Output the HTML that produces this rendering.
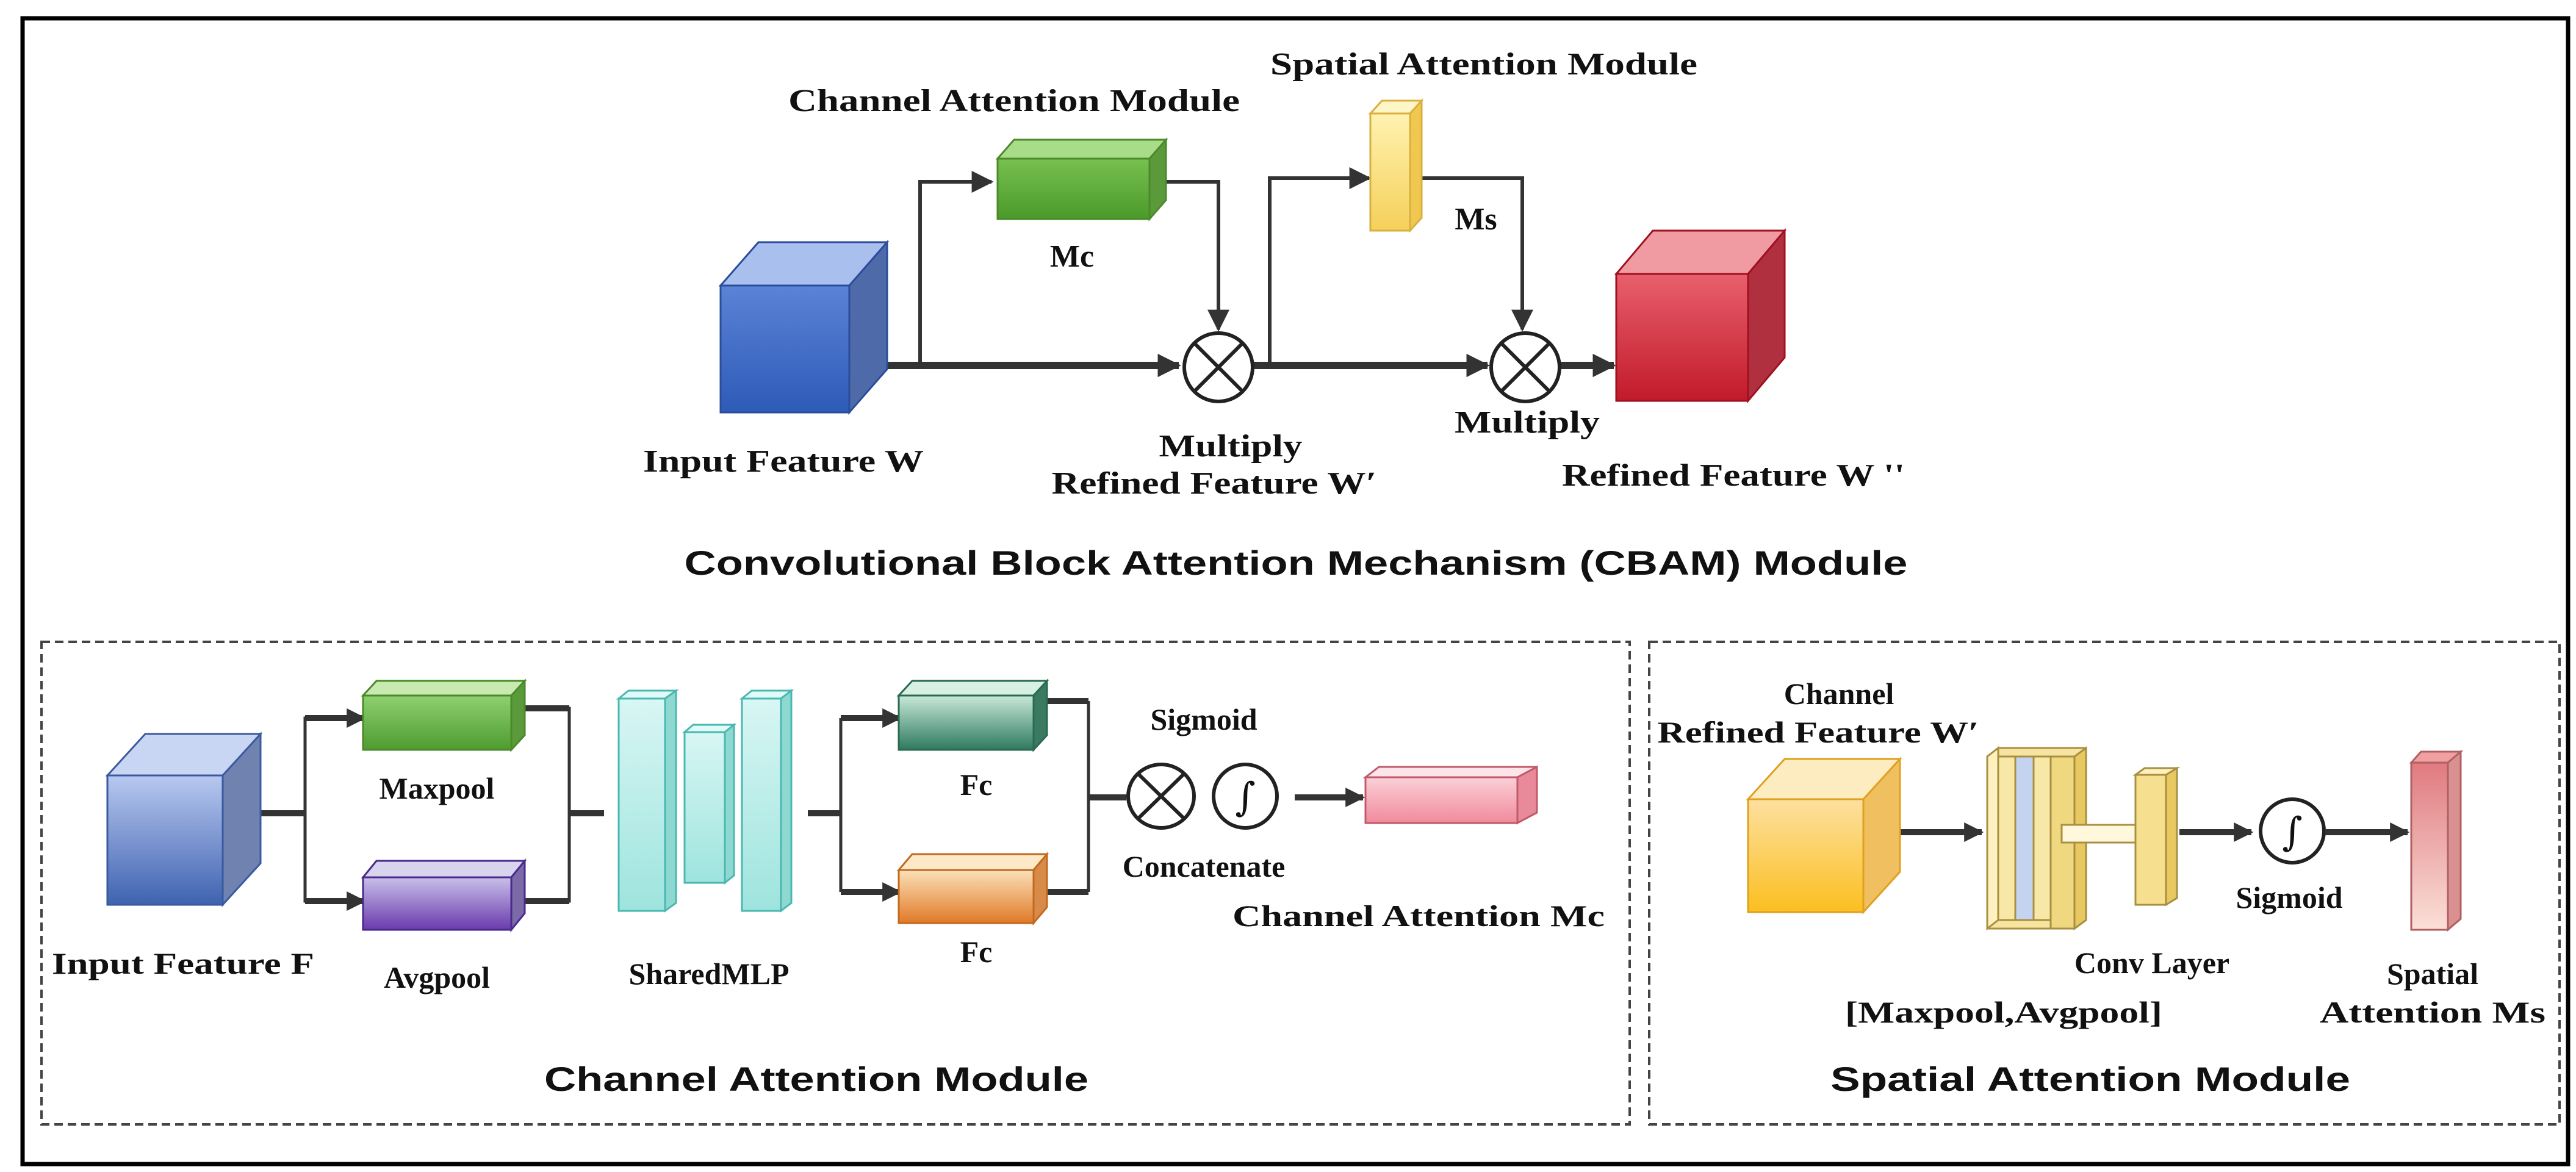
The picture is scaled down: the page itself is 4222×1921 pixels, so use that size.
<!DOCTYPE html>
<html><head><meta charset="utf-8"><style>
html,body{margin:0;padding:0;background:#fff}
svg{display:block}
.s{font-family:"Liberation Serif",serif;font-weight:bold;fill:#111}
.t{font-family:"Liberation Sans",sans-serif;font-weight:bold;fill:#111}
</style></head><body>
<svg width="4222" height="1921" viewBox="0 0 4222 1921" xmlns="http://www.w3.org/2000/svg">
<defs>
<marker id="a" viewBox="0 0 10 10" refX="9" refY="5" markerWidth="3.2" markerHeight="3.2" orient="auto" markerUnits="strokeWidth"><path d="M0,0 L10,5 L0,10 z" fill="#333"/></marker>
<marker id="b" viewBox="0 0 10 10" refX="9" refY="5" markerWidth="6" markerHeight="6" orient="auto" markerUnits="strokeWidth"><path d="M0,0 L10,5 L0,10 z" fill="#333"/></marker>
<linearGradient id="gBlue" x1="0" y1="0" x2="0" y2="1"><stop offset="0" stop-color="#5b83d6"/><stop offset="1" stop-color="#2e5bb8"/></linearGradient>
<linearGradient id="gRed" x1="0" y1="0" x2="0" y2="1"><stop offset="0" stop-color="#e8606c"/><stop offset="1" stop-color="#c21a2a"/></linearGradient>
<linearGradient id="gGreen" x1="0" y1="0" x2="0" y2="1"><stop offset="0" stop-color="#78c050"/><stop offset="1" stop-color="#4a9a2a"/></linearGradient>
<linearGradient id="gYel" x1="0" y1="0" x2="0" y2="1"><stop offset="0" stop-color="#fff2b0"/><stop offset="1" stop-color="#f5d05a"/></linearGradient>
<linearGradient id="gLB" x1="0" y1="0" x2="0" y2="1"><stop offset="0" stop-color="#b8c8f0"/><stop offset="1" stop-color="#3f63b0"/></linearGradient>
<linearGradient id="gMax" x1="0" y1="0" x2="0" y2="1"><stop offset="0" stop-color="#8fd070"/><stop offset="1" stop-color="#4e9c30"/></linearGradient>
<linearGradient id="gAvg" x1="0" y1="0" x2="0" y2="1"><stop offset="0" stop-color="#c8c0e8"/><stop offset="1" stop-color="#6a3aae"/></linearGradient>
<linearGradient id="gFc1" x1="0" y1="0" x2="0" y2="1"><stop offset="0" stop-color="#c8e8d8"/><stop offset="1" stop-color="#2e7a60"/></linearGradient>
<linearGradient id="gFc2" x1="0" y1="0" x2="0" y2="1"><stop offset="0" stop-color="#fbe0b8"/><stop offset="1" stop-color="#e07a28"/></linearGradient>
<linearGradient id="gPink" x1="0" y1="0" x2="0" y2="1"><stop offset="0" stop-color="#fbd0d8"/><stop offset="1" stop-color="#f08a9c"/></linearGradient>
<linearGradient id="gOr" x1="0" y1="0" x2="0" y2="1"><stop offset="0" stop-color="#fde0a0"/><stop offset="1" stop-color="#fbbf20"/></linearGradient>
<linearGradient id="gCy" x1="0" y1="0" x2="0" y2="1"><stop offset="0" stop-color="#d8f6f4"/><stop offset="1" stop-color="#9ee4de"/></linearGradient>
<linearGradient id="gPk2" x1="0" y1="0" x2="0" y2="1"><stop offset="0" stop-color="#e07a80"/><stop offset="1" stop-color="#fbe0d8"/></linearGradient>
</defs>

<!-- outer border -->
<rect x="37" y="30" width="4172" height="1878" fill="none" stroke="#000" stroke-width="7"/>

<!-- ===== TOP CBAM ===== -->
<text class="s" x="1662" y="182" font-size="52" text-anchor="middle" textLength="740" lengthAdjust="spacingAndGlyphs">Channel Attention Module</text>
<text class="s" x="2432" y="122" font-size="52" text-anchor="middle" textLength="700" lengthAdjust="spacingAndGlyphs">Spatial Attention Module</text>

<!-- lines -->
<g stroke="#333" fill="none">
<line x1="1454" y1="599" x2="1932" y2="599" stroke-width="12" marker-end="url(#a)"/>
<polyline points="1508,599 1508,298 1625,298" stroke-width="6" marker-end="url(#b)"/>
<polyline points="1884,298 1997,298 1997,540" stroke-width="6" marker-end="url(#b)"/>
<line x1="2054" y1="599" x2="2438" y2="599" stroke-width="12" marker-end="url(#a)"/>
<polyline points="2081,599 2081,292 2244,292" stroke-width="6" marker-end="url(#b)"/>
<polyline points="2311,292 2495,292 2495,540" stroke-width="6" marker-end="url(#b)"/>
<line x1="2557" y1="599" x2="2645" y2="599" stroke-width="12" marker-end="url(#a)"/>
</g>
<!-- blue cube -->
<rect x="1181" y="468" width="211" height="208" fill="url(#gBlue)" stroke="#2a4c9a" stroke-width="3"/>
<polygon points="1181,468 1243,397 1454,397 1392,468" fill="#a9bfee" stroke="#2a4c9a" stroke-width="3"/>
<polygon points="1392,468 1454,397 1454,605 1392,676" fill="#4e6aa8" stroke="#2a4c9a" stroke-width="3"/>
<!-- green Mc -->
<rect x="1635" y="260" width="249" height="99" fill="url(#gGreen)" stroke="#4a8a2a" stroke-width="3"/>
<polygon points="1635,260 1662,229 1911,229 1884,260" fill="#a8dc88" stroke="#4a8a2a" stroke-width="3"/>
<polygon points="1884,260 1911,229 1911,328 1884,359" fill="#5a9a3a" stroke="#4a8a2a" stroke-width="3"/>
<!-- yellow Ms -->
<rect x="2246" y="186" width="65" height="192" fill="url(#gYel)" stroke="#d8b040" stroke-width="3"/>
<polygon points="2246,186 2265,165 2330,165 2311,186" fill="#fff6c8" stroke="#d8b040" stroke-width="3"/>
<polygon points="2311,186 2330,165 2330,357 2311,378" fill="#f0c850" stroke="#d8b040" stroke-width="3"/>
<!-- red cube -->
<rect x="2649" y="449" width="216" height="208" fill="url(#gRed)" stroke="#a01020" stroke-width="3"/>
<polygon points="2649,449 2709,378 2925,378 2865,449" fill="#f09aa2" stroke="#a01020" stroke-width="3"/>
<polygon points="2865,449 2925,378 2925,586 2865,657" fill="#b03040" stroke="#a01020" stroke-width="3"/>
<!-- multiply circles -->
<g stroke="#222" stroke-width="6" fill="#fff">
<circle cx="1997" cy="602" r="56"/>
<line x1="1957" y1="562" x2="2037" y2="642"/><line x1="2037" y1="562" x2="1957" y2="642"/>
<circle cx="2500" cy="602" r="56"/>
<line x1="2460" y1="562" x2="2540" y2="642"/><line x1="2540" y1="562" x2="2460" y2="642"/>
</g>
<text class="s" x="1757" y="437" font-size="52" text-anchor="middle">Mc</text>
<text class="s" x="2419" y="376" font-size="52" text-anchor="middle">Ms</text>
<text class="s" x="1284" y="773" font-size="52" text-anchor="middle" textLength="460" lengthAdjust="spacingAndGlyphs">Input Feature W</text>
<text class="s" x="2017" y="748" font-size="52" text-anchor="middle" textLength="235" lengthAdjust="spacingAndGlyphs">Multiply</text>
<text class="s" x="1990" y="809" font-size="52" text-anchor="middle" textLength="533" lengthAdjust="spacingAndGlyphs">Refined Feature W′</text>
<text class="s" x="2503" y="709" font-size="52" text-anchor="middle" textLength="238" lengthAdjust="spacingAndGlyphs">Multiply</text>
<text class="s" x="2841" y="796" font-size="52" text-anchor="middle" textLength="562" lengthAdjust="spacingAndGlyphs">Refined Feature W ''</text>
<text class="t" x="2124" y="942" font-size="56" text-anchor="middle" textLength="2005" lengthAdjust="spacingAndGlyphs">Convolutional Block Attention Mechanism (CBAM) Module</text>

<!-- ===== BOTTOM dashed boxes ===== -->
<g fill="none" stroke="#444" stroke-width="4" stroke-dasharray="14,8">
<rect x="68" y="1052" width="2603" height="791"/>
<rect x="2703" y="1052" width="1492" height="791"/>
</g>

<!-- channel attention lines -->
<g stroke="#333" fill="none">
<line x1="427" y1="1333" x2="500" y2="1333" stroke-width="10"/>
<polyline points="595,1177 500,1177 500,1477 595,1477" stroke-width="5"/>
<line x1="500" y1="1177" x2="597" y2="1177" stroke-width="10" marker-end="url(#a)"/>
<line x1="500" y1="1477" x2="597" y2="1477" stroke-width="10" marker-end="url(#a)"/>
<polyline points="860,1161 933,1161 933,1477 860,1477" stroke-width="5"/>
<line x1="860" y1="1161" x2="933" y2="1161" stroke-width="10"/>
<line x1="860" y1="1477" x2="933" y2="1477" stroke-width="10"/>
<line x1="933" y1="1333" x2="990" y2="1333" stroke-width="10"/>
<line x1="1324" y1="1333" x2="1378" y2="1333" stroke-width="10"/>
<polyline points="1378,1177 1378,1462" stroke-width="5"/>
<line x1="1378" y1="1177" x2="1475" y2="1177" stroke-width="10" marker-end="url(#a)"/>
<line x1="1378" y1="1462" x2="1475" y2="1462" stroke-width="10" marker-end="url(#a)"/>
<polyline points="1784,1149 1784,1462" stroke-width="5"/>
<line x1="1716" y1="1149" x2="1784" y2="1149" stroke-width="10"/>
<line x1="1716" y1="1462" x2="1784" y2="1462" stroke-width="10"/>
<line x1="1784" y1="1307" x2="1846" y2="1307" stroke-width="10"/>
<line x1="2122" y1="1307" x2="2234" y2="1307" stroke-width="10" marker-end="url(#a)"/>
</g>
<!-- input F cube -->
<rect x="176" y="1271" width="189" height="212" fill="url(#gLB)" stroke="#3a5aa0" stroke-width="3"/>
<polygon points="176,1271 238,1203 427,1203 365,1271" fill="#c8d6f4" stroke="#3a5aa0" stroke-width="3"/>
<polygon points="365,1271 427,1203 427,1415 365,1483" fill="#6f82b0" stroke="#3a5aa0" stroke-width="3"/>
<!-- maxpool -->
<rect x="595" y="1140" width="243" height="89" fill="url(#gMax)" stroke="#4a8a2a" stroke-width="3"/>
<polygon points="595,1140 617,1116 860,1116 838,1140" fill="#c8eab0" stroke="#4a8a2a" stroke-width="3"/>
<polygon points="838,1140 860,1116 860,1205 838,1229" fill="#5a9a3a" stroke="#4a8a2a" stroke-width="3"/>
<!-- avgpool -->
<rect x="595" y="1438" width="243" height="86" fill="url(#gAvg)" stroke="#4a2a8a" stroke-width="3"/>
<polygon points="595,1438 617,1411 860,1411 838,1438" fill="#d8d4ee" stroke="#4a2a8a" stroke-width="3"/>
<polygon points="838,1438 860,1411 860,1497 838,1524" fill="#7a6aa8" stroke="#4a2a8a" stroke-width="3"/>
<!-- shared MLP bars -->
<g stroke="#4ab8b0" stroke-width="3">
<rect x="1014" y="1145" width="76" height="348" fill="url(#gCy)"/>
<polygon points="1014,1145 1030,1132 1108,1132 1090,1145" fill="#e0faf8"/>
<polygon points="1090,1145 1108,1132 1108,1480 1090,1493" fill="#8ed8d2"/>
<rect x="1122" y="1200" width="66" height="247" fill="url(#gCy)"/>
<polygon points="1122,1200 1136,1188 1203,1188 1188,1200" fill="#e0faf8"/>
<polygon points="1188,1200 1203,1188 1203,1435 1188,1447" fill="#8ed8d2"/>
<rect x="1216" y="1145" width="64" height="348" fill="url(#gCy)"/>
<polygon points="1216,1145 1232,1132 1297,1132 1280,1145" fill="#e0faf8"/>
<polygon points="1280,1145 1297,1132 1297,1480 1280,1493" fill="#8ed8d2"/>
</g>
<!-- Fc1 -->
<rect x="1473" y="1140" width="221" height="89" fill="url(#gFc1)" stroke="#2a6a50" stroke-width="3"/>
<polygon points="1473,1140 1495,1116 1716,1116 1694,1140" fill="#d8f0e4" stroke="#2a6a50" stroke-width="3"/>
<polygon points="1694,1140 1716,1116 1716,1205 1694,1229" fill="#3a7a62" stroke="#2a6a50" stroke-width="3"/>
<!-- Fc2 -->
<rect x="1473" y="1426" width="221" height="87" fill="url(#gFc2)" stroke="#c06a20" stroke-width="3"/>
<polygon points="1473,1426 1495,1400 1716,1400 1694,1426" fill="#fde8c8" stroke="#c06a20" stroke-width="3"/>
<polygon points="1694,1426 1716,1400 1716,1487 1694,1513" fill="#d88a48" stroke="#c06a20" stroke-width="3"/>
<!-- circles -->
<g stroke="#222" stroke-width="6" fill="#fff">
<ellipse cx="1903" cy="1305" rx="54" ry="52"/>
<line x1="1865" y1="1268" x2="1941" y2="1342"/><line x1="1941" y1="1268" x2="1865" y2="1342"/>
<ellipse cx="2041" cy="1305" rx="52" ry="52"/>
<ellipse cx="3757" cy="1362" rx="52" ry="52"/>
</g>
<text x="2041" y="1328" font-family="DejaVu Serif,serif" font-size="64" font-style="italic" text-anchor="middle" fill="#111">∫</text>
<text x="3757" y="1385" font-family="DejaVu Serif,serif" font-size="64" font-style="italic" text-anchor="middle" fill="#111">∫</text>
<!-- pink Mc -->
<rect x="2238" y="1274" width="249" height="75" fill="url(#gPink)" stroke="#c05a6a" stroke-width="3"/>
<polygon points="2238,1274 2260,1257 2519,1257 2487,1274" fill="#fde4e8" stroke="#c05a6a" stroke-width="3"/>
<polygon points="2487,1274 2519,1257 2519,1332 2487,1349" fill="#e88a9a" stroke="#c05a6a" stroke-width="3"/>

<text class="s" x="716" y="1309" font-size="50" text-anchor="middle">Maxpool</text>
<text class="s" x="716" y="1619" font-size="50" text-anchor="middle">Avgpool</text>
<text class="s" x="300" y="1596" font-size="50" text-anchor="middle" textLength="430" lengthAdjust="spacingAndGlyphs">Input Feature F</text>
<text class="s" x="1162" y="1613" font-size="50" text-anchor="middle">SharedMLP</text>
<text class="s" x="1600" y="1303" font-size="50" text-anchor="middle">Fc</text>
<text class="s" x="1600" y="1577" font-size="50" text-anchor="middle">Fc</text>
<text class="s" x="1973" y="1196" font-size="50" text-anchor="middle">Sigmoid</text>
<text class="s" x="1973" y="1437" font-size="50" text-anchor="middle">Concatenate</text>
<text class="s" x="2325" y="1518" font-size="50" text-anchor="middle" textLength="610" lengthAdjust="spacingAndGlyphs">Channel Attention Mc</text>
<text class="t" x="1338" y="1788" font-size="56" text-anchor="middle" textLength="892" lengthAdjust="spacingAndGlyphs">Channel Attention Module</text>

<!-- spatial attention -->
<g stroke="#333" fill="none">
<line x1="3114" y1="1364" x2="3248" y2="1364" stroke-width="10" marker-end="url(#a)"/>
<line x1="3572" y1="1364" x2="3690" y2="1364" stroke-width="10" marker-end="url(#a)"/>
<line x1="3811" y1="1364" x2="3946" y2="1364" stroke-width="10" marker-end="url(#a)"/>
</g>
<!-- orange cube -->
<rect x="2865" y="1310" width="189" height="185" fill="url(#gOr)" stroke="#e0a020" stroke-width="3"/>
<polygon points="2865,1310 2925,1244 3114,1244 3054,1310" fill="#fdecc0" stroke="#e0a020" stroke-width="3"/>
<polygon points="3054,1310 3114,1244 3114,1429 3054,1495" fill="#f0c060" stroke="#e0a020" stroke-width="3"/>
<!-- conv plates -->
<g stroke="#a89040" stroke-width="3">
<polygon points="3257,1240 3275,1226 3419,1226 3419,1508 3400,1522 3257,1522" fill="#f6e4a0"/>
<polygon points="3257,1240 3275,1226 3275,1508 3257,1522" fill="#fff0c0"/>
<rect x="3275" y="1240" width="28" height="268" fill="#f8e8a8"/>
<rect x="3303" y="1240" width="30" height="268" fill="#c4d4f0"/>
<rect x="3333" y="1240" width="28" height="268" fill="#f8e8a8"/>
<polygon points="3361,1240 3400,1240 3400,1522 3361,1522" fill="#f0d880"/>
<polygon points="3400,1240 3419,1226 3419,1508 3400,1522" fill="#e8c860"/>
<rect x="3379" y="1352" width="162" height="29" fill="#fff8dc"/>
<rect x="3500" y="1270" width="50" height="213" fill="#f6e090"/>
<polygon points="3500,1270 3515,1259 3568,1259 3550,1270" fill="#fff0c0"/>
<polygon points="3550,1270 3568,1259 3568,1472 3550,1483" fill="#e8c860"/>
</g>
<!-- pink bar -->
<g stroke="#b06060" stroke-width="3">
<rect x="3952" y="1250" width="60" height="274" fill="url(#gPk2)"/>
<polygon points="3952,1250 3968,1232 4033,1232 4012,1250" fill="#f0a0a0"/>
<polygon points="4012,1250 4033,1232 4033,1506 4012,1524" fill="#d89090"/>
</g>
<text class="s" x="3014" y="1154" font-size="50" text-anchor="middle">Channel</text>
<text class="s" x="2980" y="1217" font-size="50" text-anchor="middle" textLength="527" lengthAdjust="spacingAndGlyphs">Refined Feature W′</text>
<text class="s" x="3752" y="1488" font-size="50" text-anchor="middle">Sigmoid</text>
<text class="s" x="3527" y="1595" font-size="50" text-anchor="middle">Conv Layer</text>
<text class="s" x="3284" y="1676" font-size="50" text-anchor="middle" textLength="520" lengthAdjust="spacingAndGlyphs">[Maxpool,Avgpool]</text>
<text class="s" x="3987" y="1613" font-size="50" text-anchor="middle">Spatial</text>
<text class="s" x="3987" y="1676" font-size="50" text-anchor="middle" textLength="370" lengthAdjust="spacingAndGlyphs">Attention Ms</text>
<text class="t" x="3426" y="1788" font-size="56" text-anchor="middle" textLength="852" lengthAdjust="spacingAndGlyphs">Spatial Attention Module</text>
</svg>
</body></html>
